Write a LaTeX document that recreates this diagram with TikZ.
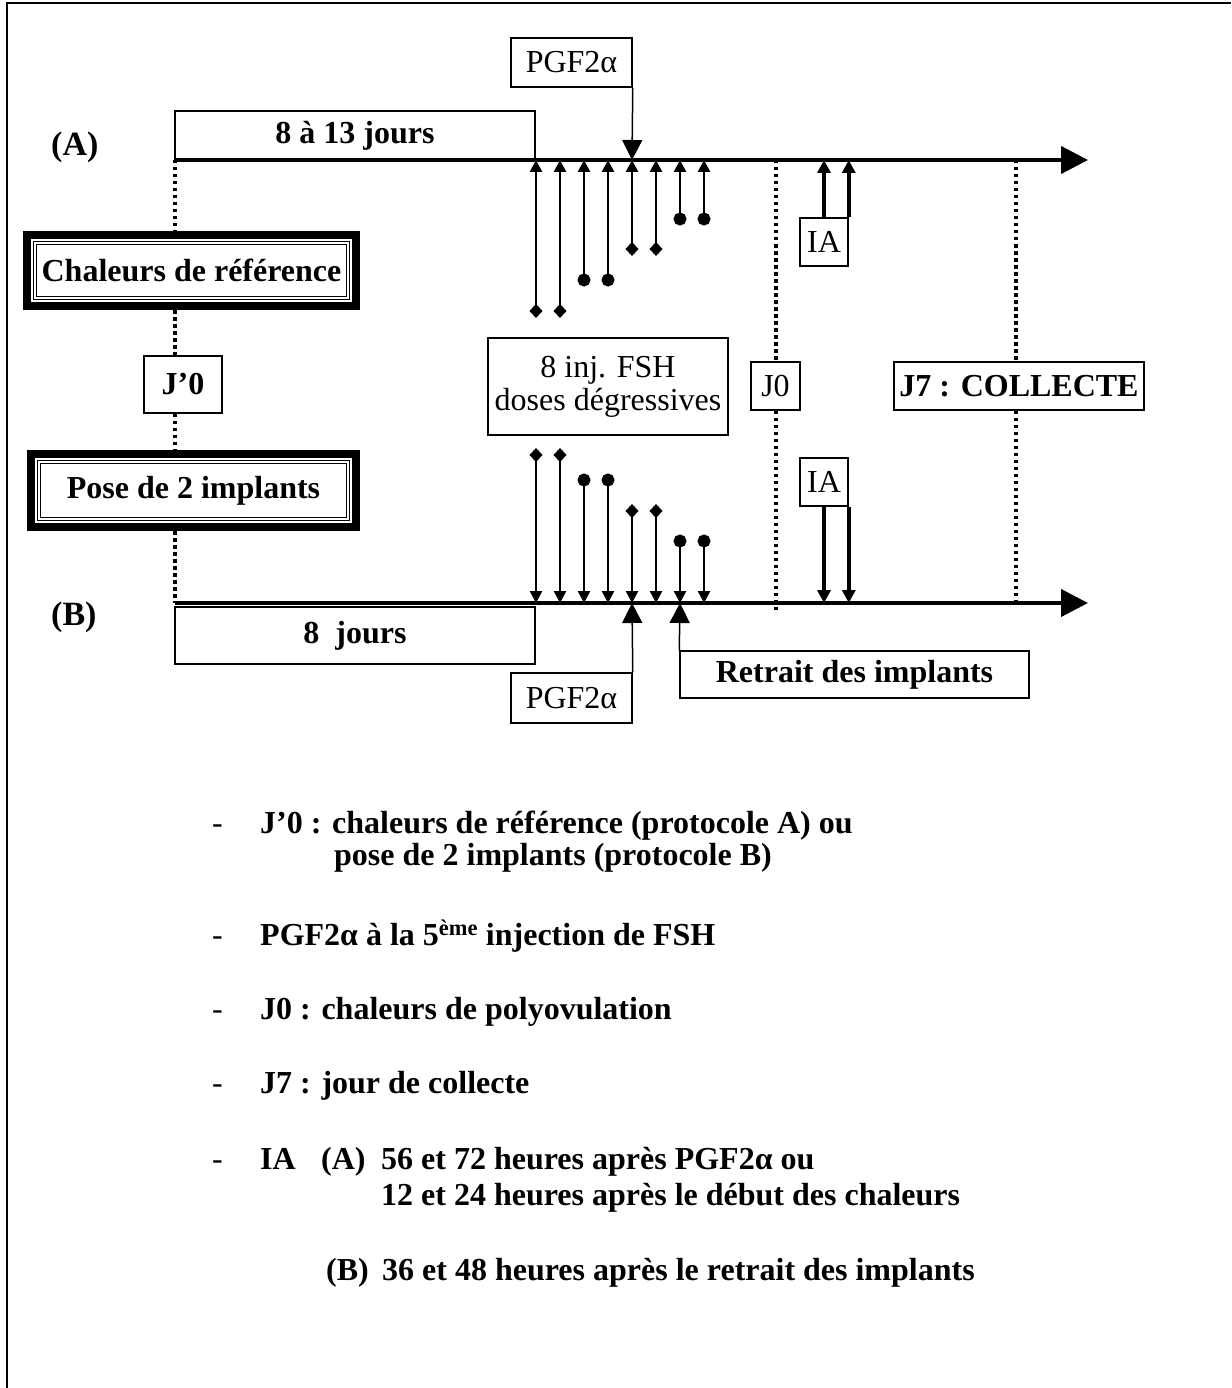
\documentclass[tikz,border=0pt]{standalone}
\usepackage{fontspec}
\setmainfont{Liberation Serif}
\usetikzlibrary{arrows.meta,calc}

\begin{document}
\begin{tikzpicture}[x=1pt,y=-1pt,every node/.style={font=\fontsize{32}{33}\selectfont,inner sep=0pt},box/.style={draw,line width=1.5pt},bbox/.style={box,font=\fontsize{32}{33}\selectfont\bfseries},tribox/.style={draw,line width=8pt,font=\fontsize{32}{33}\selectfont\bfseries},axis/.style={line width=4pt,-{Triangle[length=27pt,width=27pt]}},dots/.style={line width=3.5pt,dash pattern=on 3.5pt off 3.5pt},inj/.style={line width=2.5pt},dtail/.style={{Diamond[length=14pt,width=13pt]}-{Triangle[length=12pt,width=12pt]}},ctail/.style={{Circle[length=13pt]}-{Triangle[length=12pt,width=12pt]}},bigarrow/.style={line width=1.5pt,-{Triangle[length=20pt,width=20pt]}},iaarrow/.style={line width=3.5pt,-{Triangle[length=13pt,width=13pt]}},legend/.style={anchor=base west,font=\fontsize{32}{33}\selectfont\bfseries},hyph/.style={anchor=base west}]
\useasboundingbox (0,0) rectangle (1231,1388);
\draw[line width=2.5pt] (7,1388) -- (7,3) -- (1231,3);

% the two time axes
\coordinate (pA) at (175,160); \coordinate (endA) at (1088,160); \coordinate (pB) at (175,603); \coordinate (endB) at (1088,603);
\draw[axis] (pA) -- (endA); \draw[axis] (pB) -- (endB);
\node[anchor=base west,font=\fontsize{34}{36}\selectfont\bfseries] (labA) at (51,156) {(A)};
\node[anchor=base west,font=\fontsize{34}{36}\selectfont\bfseries] (labB) at (51,625) {(B)};

% boxes
\node[bbox,minimum width=360,minimum height=49] (d813) at (355,135.5) {8 à 13 jours};
\node[box,minimum width=121,minimum height=49] (pgft) at (571.5,62.5) {PGF2α};
\node[tribox,minimum width=329,minimum height=71] (chal) at (191.5,270.5) {Chaleurs de référence};
\node[bbox,minimum width=78,minimum height=57] (jp) at (183,384.5) {J’0};
\node[tribox,minimum width=325,minimum height=73] (pose) at (193.5,490.5) {Pose de 2 implants};
\draw[double,double distance=2pt,line width=1.2pt] ([shift={(12.2pt,-12.2pt)}]chal.north west) rectangle ([shift={(-12.2pt,12.2pt)}]chal.south east);
\draw[double,double distance=2pt,line width=1.2pt] ([shift={(12.2pt,-12.2pt)}]pose.north west) rectangle ([shift={(-12.2pt,12.2pt)}]pose.south east);
\node[box,minimum width=240,minimum height=97,align=center] (fsh) at (608,386.5) {8 inj. FSH\\doses dégressives};
\node[box,minimum width=49,minimum height=48] (j0) at (775.5,386) {J0};
\node[bbox,minimum width=250,minimum height=48] (j7) at (1019,386) {J7 : COLLECTE};
\node[box,minimum width=48,minimum height=48] (iat) at (824,242) {IA};
\node[box,minimum width=48,minimum height=48] (iab) at (824,482) {IA};
\node[bbox,minimum width=360,minimum height=57] (d8) at (355,635.5) {8\ \ jours};
\node[box,minimum width=121,minimum height=50] (pgfb) at (571.5,698) {PGF2α};
\node[bbox,minimum width=349,minimum height=47] (retr) at (854.5,674.5) {Retrait des implants};

% FSH injections
\foreach \x/\ya/\yb/\tl [count=\i] in {536/318/448/dtail,560/318/448/dtail,584/286.5/473.5/ctail,608/286.5/473.5/ctail,632/256/504/dtail,656/256/504/dtail,680/225.5/534.5/ctail,704/225.5/534.5/ctail}{
  \coordinate (ia\i) at (\x,160); \coordinate (ta\i) at (\x,\ya); \coordinate (ib\i) at (\x,603); \coordinate (tb\i) at (\x,\yb);
  \draw[inj,\tl] (ta\i) -- (ia\i); \draw[inj,\tl] (tb\i) -- (ib\i);
}
\draw[bigarrow] (pgft.south east) -- (ia5);
\draw[bigarrow] (pgfb.north east) -- (ib5);
\draw[bigarrow] (retr.north west) -- (ib7);
\draw[iaarrow] (iat.north) -- (iat.north |- pA); \draw[iaarrow] (iat.north east) -- (iat.north east |- pA);
\draw[iaarrow] (iab.south) -- (iab.south |- pB); \draw[iaarrow] (iab.south east) -- (iab.south east |- pB);

% dotted markers
\draw[dots] (pA) -- (pA |- chal.north); \draw[dots] (pA |- chal.south) -- (pA |- jp.north); \draw[dots] (pA |- jp.south) -- (pA |- pose.north); \draw[dots] (pA |- pose.south) -- (pB);
\coordinate (j0A) at (776,160); \coordinate (j0B) at (776,610); \coordinate (j7A) at (1016,160); \coordinate (j7B) at (1016,603);
\draw[dots] (j0A) -- (j0A |- j0.north); \draw[dots] (j0A |- j0.south) -- (j0B);
\draw[dots] (j7A) -- (j7A |- j7.north); \draw[dots] (j7A |- j7.south) -- (j7B);

% legend
\foreach \y in {833,945,1019,1093,1169} \node[hyph] at (212,\y) {-};
\node[legend] (l1) at (260,833) {J’0 : chaleurs de référence (protocole A) ou};
\node[legend] (l1b) at (334,865) {pose de 2 implants (protocole B)};
\node[legend] (l2) at (260,945) {PGF2α à la 5\textsuperscript{ème} injection de FSH};
\node[legend] (l3) at (260,1019) {J0 : chaleurs de polyovulation};
\node[legend] (l4) at (260,1093) {J7 : jour de collecte};
\node[legend] (l5) at (260,1169) {IA};
\node[legend] (l5a) at (321,1169) {(A)};
\node[legend] (l5b) at (381,1169) {56 et 72 heures après PGF2α ou};
\node[legend] (l5c) at (381,1205) {12 et 24 heures après le début des chaleurs};
\node[legend] (l6a) at (326,1280) {(B)};
\node[legend] (l6b) at (382,1280) {36 et 48 heures après le retrait des implants};

\end{tikzpicture}
\end{document}
